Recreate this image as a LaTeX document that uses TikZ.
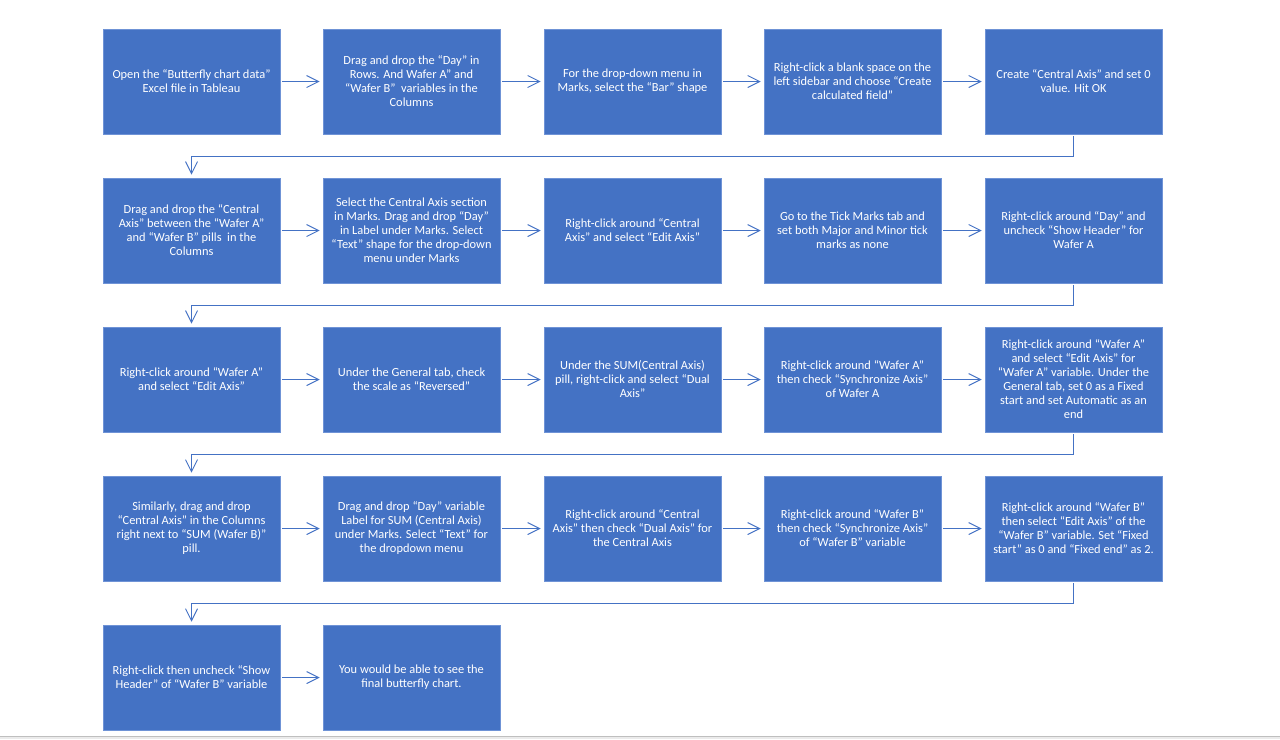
\documentclass[tikz,border=0pt]{standalone}
\usepackage{fontspec}
\setmainfont{Carlito}
\usetikzlibrary{arrows.meta}
\definecolor{boxblue}{HTML}{4472C4}
\definecolor{boxedge}{HTML}{6F93D6}
\tikzset{
  stepbox/.style={draw=boxedge, line width=0.4pt, fill=boxblue, text=white,
    minimum width=132.75pt, minimum height=78.75pt, inner sep=0pt,
    align=center, font=\fontsize{9.3pt}{10.5pt}\selectfont},
  flow/.style={draw=boxblue, line width=0.75pt, shorten <=1.5pt, shorten >=2.25pt,
    -{Straight Barb[length=9pt,width=9pt,line width=0.75pt]}}
}
\begin{document}
\begin{tikzpicture}[x=0.75pt,y=-0.75pt]
\useasboundingbox (0,0) rectangle (1280,739);
\fill[black!8] (0,736) rectangle (1280,739);
\draw[black!25, line width=0.75pt] (0,736) -- (1280,736);

		% row 1
		\node [stepbox] (1) at (191.5, 81.5) {Open the “Butterfly chart data”\\ Excel file in Tableau};
		\node [stepbox] (2) at (411.5, 81.5) {Drag and drop the “Day” in\\ Rows. And Wafer A” and\\ “Wafer B”\ \ variables in the\\ Columns};
		\node [stepbox] (3) at (632.5, 81.5) {For the drop-down menu in\\ Marks, select the “Bar” shape};
		\node [stepbox] (4) at (852.5, 81.5) {Right-click a blank space on the\\ left sidebar and choose “Create\\ calculated field”};
		\node [stepbox] (5) at (1073.5, 81.5) {Create “Central Axis” and set 0\\ value. Hit OK};
		% row 2
		\node [stepbox] (6) at (191.5, 230.5) {Drag and drop the “Central\\ Axis” between the “Wafer A”\\ and “Wafer B” pills\ \ in the\\ Columns};
		\node [stepbox] (7) at (411.5, 230.5) {Select the Central Axis section\\ in Marks. Drag and drop “Day”\\ in Label under Marks. Select\\ “Text” shape for the drop-down\\ menu under Marks};
		\node [stepbox] (8) at (632.5, 230.5) {Right-click around “Central\\ Axis” and select “Edit Axis”};
		\node [stepbox] (9) at (852.5, 230.5) {Go to the Tick Marks tab and\\ set both Major and Minor tick\\ marks as none};
		\node [stepbox] (10) at (1073.5, 230.5) {Right-click around “Day” and\\ uncheck “Show Header” for\\ Wafer A};
		% row 3
		\node [stepbox] (11) at (191.5, 379.5) {Right-click around “Wafer A”\\ and select “Edit Axis”};
		\node [stepbox] (12) at (411.5, 379.5) {Under the General tab, check\\ the scale as “Reversed”};
		\node [stepbox] (13) at (632.5, 379.5) {Under the SUM(Central Axis)\\ pill, right-click and select “Dual\\ Axis”};
		\node [stepbox] (14) at (852.5, 379.5) {Right-click around “Wafer A”\\ then check “Synchronize Axis”\\ of Wafer A};
		\node [stepbox] (15) at (1073.5, 379.5) {Right-click around “Wafer A”\\ and select “Edit Axis” for\\ “Wafer A” variable. Under the\\ General tab, set 0 as a Fixed\\ start and set Automatic as an\\ end};
		% row 4
		\node [stepbox] (16) at (191.5, 528.5) {Similarly, drag and drop\\ “Central Axis” in the Columns\\ right next to “SUM (Wafer B)”\\ pill.};
		\node [stepbox] (17) at (411.5, 528.5) {Drag and drop “Day” variable\\ Label for SUM (Central Axis)\\ under Marks. Select “Text” for\\ the dropdown menu};
		\node [stepbox] (18) at (632.5, 528.5) {Right-click around “Central\\ Axis” then check “Dual Axis” for\\ the Central Axis};
		\node [stepbox] (19) at (852.5, 528.5) {Right-click around “Wafer B”\\ then check “Synchronize Axis”\\ of “Wafer B” variable};
		\node [stepbox] (20) at (1073.5, 528.5) {Right-click around “Wafer B”\\ then select “Edit Axis” of the\\ “Wafer B” variable. Set “Fixed\\ start” as 0 and “Fixed end” as 2.};
		% row 5
		\node [stepbox] (21) at (191.5, 677.5) {Right-click then uncheck “Show\\ Header” of “Wafer B” variable};
		\node [stepbox] (22) at (411.5, 677.5) {You would be able to see the\\ final butterfly chart.};

		\foreach \a/\b in {1/2,2/3,3/4,4/5,6/7,7/8,8/9,9/10,11/12,12/13,13/14,14/15,16/17,17/18,18/19,19/20,21/22}
			\draw [flow] (\a) to (\b);

		\draw [flow] (5.south) -- ++(0,22) -| (6.north);
		\draw [flow] (10.south) -- ++(0,22) -| (11.north);
		\draw [flow] (15.south) -- ++(0,22) -| (16.north);
		\draw [flow] (20.south) -- ++(0,22) -| (21.north);
\end{tikzpicture}
\end{document}
